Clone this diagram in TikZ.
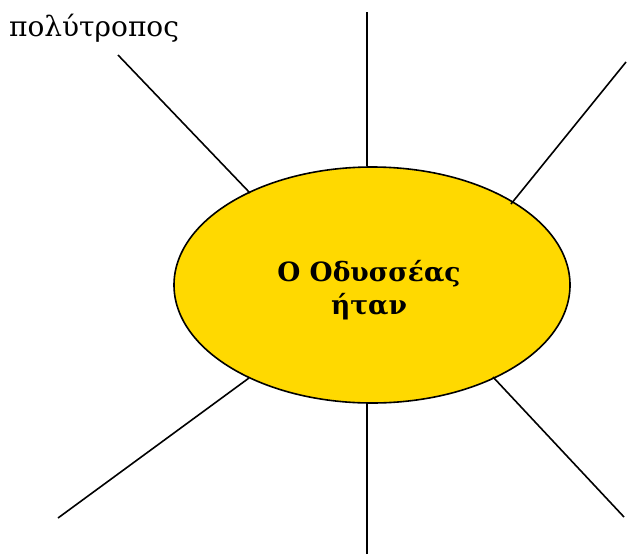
\documentclass[tikz,border=0pt]{standalone}
\usepackage{fontspec}
\setmainfont{DejaVu Serif}
\usetikzlibrary{shapes.geometric}
\definecolor{sun}{RGB}{255,217,0}
\tikzset{
  ray/.style={draw=black, line width=1.6pt},
  centre/.style={ellipse, draw=black, line width=1.6pt, fill=sun, minimum width=396pt, minimum height=236pt, inner sep=0pt, align=center, font=\bfseries\fontsize{26.5}{33}\selectfont, text depth=0pt},
  label/.style={inner sep=0pt, anchor=base west, font=\fontsize{28}{32}\selectfont}
}
\begin{document}
\begin{tikzpicture}[x=1pt,y=-1pt]
\useasboundingbox (0,0) rectangle (628,554);
\node[centre] (c) at (372,285) {};
\node[inner sep=0pt, align=center, font=\bfseries\fontsize{26.5}{33}\selectfont] (txt) at (369,290) {Ο Οδυσσέας\\ήταν};
\node[label] (w) at (9,36) {πολύτροπος};
\coordinate (t) at (367,12);
\coordinate (tl) at (118,55);
\coordinate (tr) at (626,62);
\coordinate (bl) at (58,518);
\coordinate (b) at (367,554);
\coordinate (br) at (624,517);
\draw[ray] (t) -- (t |- c.north);
\draw[ray] (tl) -- (250,193);
\draw[ray] (tr) -- (511,204);
\draw[ray] (bl) -- (249,378);
\draw[ray] (b) -- (b |- c.south);
\draw[ray] (br) -- (493,377);
\end{tikzpicture}
\end{document}
